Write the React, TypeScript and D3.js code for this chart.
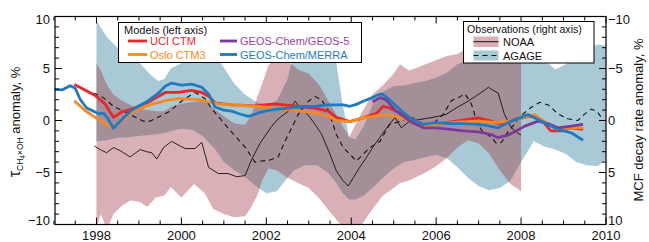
import * as d3 from "d3";

// model anomalies (left axis, %)
const uciYears = [1997.48, 1997.65, 1997.97, 1998.2, 1998.4, 1998.59, 1998.83, 1999.22, 1999.62, 1999.93, 2000.24, 2000.48, 2000.65, 2000.79, 2001.18, 2001.5, 2001.73, 2002.2, 2002.75, 2003.15, 2003.46, 2003.65, 2003.97, 2004.28, 2004.6, 2004.75, 2004.9, 2005.22, 2005.53, 2005.76, 2006.0, 2006.47, 2006.75, 2006.99, 2007.3, 2007.53, 2007.84, 2008.23, 2008.47, 2008.7, 2008.94, 2009.18, 2009.46];
const uciVals = [3.45, 3.1, 2.4, 1.6, 0.3, 0.8, 1.1, 1.75, 2.7, 2.7, 2.9, 2.7, 2.3, 1.7, 1.5, 1.45, 1.4, 1.6, 1.35, 1.2, 0.9, 0.3, -0.1, 0.25, 0.7, 1.37, 1.2, 0.57, -0.06, -0.54, -0.38, -0.06, 0.1, 0.26, -0.06, -0.38, 0.1, 0.4, 0.1, -1.0, -1.0, -0.7, -0.86];

const osloYears = [1997.48, 1997.73, 1997.97, 1998.2, 1998.4, 1998.83, 1999.22, 1999.62, 1999.93, 2000.4, 2000.87, 2001.2, 2001.73, 2002.52, 2003.15, 2003.46, 2003.65, 2003.97, 2004.28, 2004.75, 2005.06, 2005.38, 2005.7, 2006.0, 2006.5, 2006.99, 2007.46, 2007.84, 2008.32, 2008.63, 2008.87, 2009.18, 2009.46];
const osloVals = [1.9, 0.96, 0.3, -0.3, -0.73, 0.8, 1.45, 1.9, 2.1, 2.0, 1.6, 1.5, 1.37, 1.05, 0.73, 0.4, 0.0, -0.1, 0.25, 0.57, 0.4, -0.06, -0.54, -0.38, -0.15, -0.06, -0.2, 0.05, 0.57, -0.3, -0.86, -0.7, -0.7];

const geos5Years = [2004.5, 2004.68, 2004.82, 2005.06, 2005.38, 2005.7, 2006.0, 2006.32, 2006.64, 2006.99, 2007.3, 2007.46, 2007.7, 2008.09, 2008.4, 2008.63, 2008.87, 2009.18, 2009.46];
const geos5Vals = [1.8, 2.2, 2.0, 0.9, -0.06, -0.7, -0.7, -0.86, -1.0, -1.1, -1.35, -1.65, -1.4, -0.54, -0.06, -0.3, -0.7, -0.55, -0.38];

const merraYears = [1997.0, 1997.2, 1997.38, 1997.5, 1997.62, 1997.77, 1997.93, 1998.05, 1998.16, 1998.25, 1998.4, 1998.6, 1998.83, 1999.0, 1999.22, 1999.45, 1999.62, 1999.77, 2000.0, 2000.24, 2000.48, 2000.65, 2000.79, 2001.0, 2001.18, 2001.4, 2001.58, 2001.8, 2001.97, 2002.25, 2002.52, 2002.8, 2003.15, 2003.46, 2003.81, 2003.97, 2004.12, 2004.28, 2004.5, 2004.68, 2004.75, 2004.9, 2005.06, 2005.22, 2005.38, 2005.55, 2005.7, 2006.0, 2006.3, 2006.64, 2006.99, 2007.2, 2007.46, 2007.77, 2008.0, 2008.16, 2008.4, 2008.63, 2008.87, 2009.18, 2009.46];
const merraVals = [3.0, 2.95, 3.35, 3.1, 2.0, 1.2, 0.9, 0.65, 0.7, 0.3, -0.75, 0.1, 1.0, 1.4, 1.9, 2.6, 3.3, 3.6, 3.4, 3.5, 3.2, 2.5, 1.3, 1.0, 0.9, 0.6, 0.4, 0.7, 0.9, 1.1, 1.2, 1.3, 1.37, 1.5, 1.5, 1.37, 1.55, 1.85, 2.2, 2.55, 2.5, 2.0, 1.4, 0.8, 0.25, -0.1, -0.38, -0.2, -0.3, -0.3, -0.38, -0.5, -0.7, -0.06, 0.3, 0.57, 0.1, -0.38, -0.86, -1.18, -1.9];

// observed MCF decay rate anomalies (right axis, %)
const noaaYears = [1997.95, 1998.09, 1998.24, 1998.4, 1998.56, 1998.79, 1999.03, 1999.18, 1999.3, 1999.42, 1999.58, 1999.77, 1999.97, 2000.09, 2000.32, 2000.48, 2000.64, 2000.87, 2001.1, 2001.3, 2001.5, 2001.65, 2001.85, 2002.12, 2002.28, 2002.52, 2002.68, 2002.83, 2002.99, 2003.15, 2003.3, 2003.5, 2003.65, 2003.81, 2003.93, 2004.05, 2004.2, 2004.35, 2004.52, 2004.68, 2004.82, 2005.03, 2005.18, 2005.38, 2005.62, 2005.85, 2006.05, 2006.24, 2006.47, 2006.75, 2006.99, 2007.14, 2007.23, 2007.3, 2007.46, 2007.61, 2007.77, 2007.92, 2008.0];
const noaaVals = [2.45, 2.8, 3.1, 2.6, 2.9, 3.5, 2.8, 3.0, 3.1, 3.7, 2.6, 2.0, 2.45, 2.7, 2.7, 2.1, 4.5, 5.1, 5.1, 5.4, 5.3, 3.8, 2.2, 0.6, -0.16, -0.9, -1.85, -1.05, -0.5, 0.38, 1.3, 3.25, 4.85, 5.8, 6.3, 5.5, 4.5, 3.6, 2.5, 1.6, 0.8, -0.3, 0.7, 0.06, -0.1, -0.25, -0.4, -0.6, -1.2, -1.85, -2.5, -2.9, -3.2, -3.0, -2.65, -0.57, 0.7, 1.2, 1.4];

const agageYears = [1997.93, 1998.16, 1998.4, 1998.64, 1998.87, 1999.1, 1999.26, 1999.5, 1999.73, 2000.0, 2000.32, 2000.56, 2000.72, 2000.95, 2001.18, 2001.5, 2001.73, 2001.89, 2002.09, 2002.28, 2002.44, 2002.6, 2002.75, 2002.99, 2003.15, 2003.3, 2003.46, 2003.65, 2003.81, 2003.97, 2004.12, 2004.28, 2004.44, 2004.68, 2004.9, 2005.14, 2005.46, 2005.7, 2005.93, 2006.16, 2006.36, 2006.52, 2006.68, 2006.83, 2006.95, 2007.07, 2007.3, 2007.42, 2007.54, 2007.69, 2007.85, 2008.0, 2008.24, 2008.44, 2008.64, 2008.87, 2009.1, 2009.34, 2009.5, 2009.66, 2009.8, 2009.9];
const agageVals = [-2.65, -2.2, -1.37, -0.9, -0.4, 0.06, 0.06, -0.4, -0.9, -1.85, -2.7, -2.1, -1.1, 0.0, 1.1, 2.55, 4.0, 3.9, 3.8, 3.5, 2.0, 0.7, -0.57, -1.85, -2.3, -2.0, -1.0, 1.34, 2.6, 3.25, 3.9, 3.25, 2.6, 2.0, 0.38, 0.1, -0.25, 0.7, 0.3, -0.57, -1.9, -2.2, -2.55, -1.6, 0.0, 0.96, 1.6, 2.2, 2.1, 1.1, 0.32, -0.48, -1.27, -1.75, -1.5, -0.64, -0.16, 0.0, -0.64, -1.1, -0.8, -0.25];

// uncertainty ranges (right axis)
const noaaBandYears = [1998.0, 1998.1, 1998.25, 1998.4, 1998.6, 1998.8, 1999.0, 1999.2, 1999.4, 1999.6, 1999.75, 2000.0, 2000.3, 2000.55, 2000.75, 2001.0, 2001.25, 2001.5, 2001.65, 2001.8, 2001.9, 2002.05, 2002.25, 2002.5, 2002.75, 2003.0, 2003.25, 2003.5, 2003.75, 2003.95, 2004.25, 2004.5, 2004.75, 2005.0, 2005.15, 2005.35, 2005.5, 2005.75, 2006.0, 2006.25, 2006.5, 2006.75, 2007.0, 2007.25, 2007.5, 2007.75, 2008.0];
const noaaBandLow = [-5.5, -4.8, -3.4, -2.5, -1.9, -1.5, -1.1, -1.0, -0.9, -0.9, -1.3, -1.6, -1.8, -1.9, -1.2, -0.4, 0.3, 0.4, -0.5, -2.4, -3.5, -5.3, -6.1, -5.7, -4.9, -4.5, -3.4, -1.6, 0.2, 1.6, -0.8, -2.5, -3.4, -4.5, -5.4, -4.8, -5.0, -5.4, -5.8, -6.2, -6.4, -7.0, -7.5, -7.5, -7.2, -6.6, -6.2];
const noaaBandHigh = [10.5, 9.0, 10.5, 9.0, 8.2, 7.7, 7.8, 8.3, 7.4, 7.2, 6.4, 7.4, 6.1, 7.0, 8.5, 9.0, 9.3, 9.2, 8.3, 7.1, 5.8, 4.6, 4.8, 5.5, 6.0, 6.5, 7.5, 8.8, 10.0, 10.6, 10.0, 8.5, 7.2, 6.5, 6.0, 5.8, 5.5, 5.0, 4.4, 3.6, 2.6, 1.9, 2.2, 3.2, 4.8, 6.1, 6.8];

const agageBandYears = [1998.0, 1998.25, 1998.5, 1998.75, 1999.0, 1999.25, 1999.45, 1999.6, 1999.75, 2000.0, 2000.25, 2000.5, 2000.8, 2001.0, 2001.25, 2001.5, 2001.75, 2002.0, 2002.25, 2002.5, 2002.65, 2002.9, 2003.2, 2003.45, 2003.65, 2003.8, 2003.95, 2004.1, 2004.3, 2004.5, 2004.75, 2005.0, 2005.25, 2005.5, 2005.75, 2006.0, 2006.25, 2006.5, 2006.75, 2007.0, 2007.25, 2007.5, 2007.75, 2008.0, 2008.3, 2008.55, 2008.8, 2009.05, 2009.3, 2009.55, 2009.8, 2010.0];
const agageBandLow = [-9.6, -8.0, -7.0, -6.3, -5.6, -4.5, -3.8, -4.0, -5.0, -5.5, -5.7, -5.7, -6.3, -5.1, -3.5, -2.5, -1.8, -1.5, -1.9, -4.0, -6.5, -8.0, -8.5, -8.0, -5.5, -1.5, 1.6, 1.8, 0.5, -1.5, -2.8, -3.3, -3.4, -3.6, -3.8, -4.1, -4.6, -5.4, -5.8, -6.0, -6.0, -6.0, -6.1, -6.3, -6.2, -5.9, -4.9, -5.4, -6.2, -6.9, -7.3, -7.2];
const agageBandHigh = [2.0, 1.9, 1.65, 1.6, 1.5, 1.4, 1.3, 1.2, 1.0, 0.8, 0.9, 1.5, 2.8, 4.0, 4.8, 5.4, 6.3, 7.0, 6.8, 5.5, 4.8, 4.3, 4.3, 5.0, 6.0, 7.0, 7.6, 7.6, 7.2, 6.5, 5.5, 4.6, 4.0, 3.8, 3.5, 3.3, 3.6, 4.5, 5.5, 6.3, 6.7, 6.5, 5.8, 4.0, 2.0, 2.5, 2.8, 3.2, 4.0, 4.3, 4.4, 3.8];

const yearLabels = [1998, 2000, 2002, 2004, 2006, 2008, 2010];
const valueLabels = [10, 5, 0, -5, -10];

const colors = {
  uci: "#e8262b",
  oslo: "#f68a20",
  geos5: "#7b3c99",
  geos5Text: "#9d3fa2",
  merra: "#1f7bc1",
  noaa: "#d9b0b5",
  agage: "#a9c9d6",
  both: "#a48f98",
};

const font = "'Liberation Sans', Arial, Helvetica, sans-serif";
const W = 649;
const H = 242;
const left = 55, right = 606, top = 16.5, bottom = 224.5;

const x = d3.scaleLinear().domain([1997, 2010]).range([54, 606]);
const yLeft = d3.scaleLinear().domain([-10, 10]).range([bottom, top]);
const yRight = d3.scaleLinear().domain([-10, 10]).range([top, bottom]);

const pairs = (xs: number[], ys: number[]) => xs.map((t, i) => [t, ys[i]] as [number, number]);
const minus = (v: number) => (v < 0 ? "\u2212" + Math.abs(v) : String(v));
// the extreme labels sit a little inside the frame, as in the original
const labelY = (py: number) => Math.min(Math.max(py, 19.5), 220);

export default function App() {
  const modelLine = d3.line<[number, number]>().x((d) => x(d[0])).y((d) => yLeft(d[1]));
  const obsLine = d3.line<[number, number]>().x((d) => x(d[0])).y((d) => yRight(d[1]));
  const band = (ys: number[], lo: number[], hi: number[]) =>
    d3.area<number>().x((i) => x(ys[i])).y0((i) => yRight(lo[i])).y1((i) => yRight(hi[i]))(d3.range(ys.length)) || "";

  const noaaBand = band(noaaBandYears, noaaBandLow, noaaBandHigh);
  const agageBand = band(agageBandYears, agageBandLow, agageBandHigh);

  const models = [
    { vals: pairs(uciYears, uciVals), color: colors.uci },
    { vals: pairs(osloYears, osloVals), color: colors.oslo },
    { vals: pairs(geos5Years, geos5Vals), color: colors.geos5 },
    { vals: pairs(merraYears, merraVals), color: colors.merra },
  ];

  const yTicks = d3.range(-10, 11);
  const xTicks = d3.range(1997, 2010.01, 0.5);

  return (
    <svg width={W} height={H} style={{ position: "absolute", left: 0, top: 0, background: "#fff" }} fontFamily={font}>
      <defs>
        <clipPath id="plot">
          <rect x={left} y={top} width={right - left} height={bottom - top} />
        </clipPath>
        <clipPath id="agageClip">
          <path d={agageBand} />
        </clipPath>
      </defs>

      <g clipPath="url(#plot)">
        <path d={noaaBand} fill={colors.noaa} />
        <path d={agageBand} fill={colors.agage} />
        <path d={noaaBand} fill={colors.both} clipPath="url(#agageClip)" />

        <path d={obsLine(pairs(noaaYears, noaaVals)) || ""} fill="none" stroke="#111" strokeWidth={0.9} />
        <path d={obsLine(pairs(agageYears, agageVals)) || ""} fill="none" stroke="#111" strokeWidth={1.1} strokeDasharray="5,4" />

        {models.map((m, i) => (
          <path key={i} d={modelLine(m.vals) || ""} fill="none" stroke={m.color} strokeWidth={2.8} strokeLinejoin="round" />
        ))}
      </g>

      {/* frame and ticks */}
      <rect x={left} y={top} width={right - left} height={bottom - top} fill="none" stroke="#000" strokeWidth={1.2} />
      <g stroke="#000" strokeWidth={1}>
        {yTicks.map((v) => {
          const len = v % 5 === 0 ? 7 : 4;
          return (
            <g key={v}>
              <line x1={left} x2={left + len} y1={yLeft(v)} y2={yLeft(v)} />
              <line x1={right} x2={right - len} y1={yRight(v)} y2={yRight(v)} />
            </g>
          );
        })}
        {xTicks.map((t) => {
          const len = t % 2 === 0 ? 7 : 4;
          return (
            <g key={t}>
              <line x1={x(t)} x2={x(t)} y1={bottom} y2={bottom - len} />
              <line x1={x(t)} x2={x(t)} y1={top} y2={top + len} />
            </g>
          );
        })}
      </g>

      <g fontSize={13} fill="#111">
        {valueLabels.map((v) => (
          <text key={"l" + v} x={50} y={labelY(yLeft(v))} dy="0.35em" textAnchor="end">{minus(v)}</text>
        ))}
        {valueLabels.map((v) => (
          <text key={"r" + v} x={608} y={labelY(yRight(v))} dy="0.35em">{minus(v)}</text>
        ))}
        {yearLabels.map((t) => (
          <text key={t} x={x(t)} y={240} textAnchor="middle">{t}</text>
        ))}
      </g>

      {/* axis titles */}
      <text transform="translate(20,122) rotate(-90)" textAnchor="middle" fontSize={13} fill="#111">
        <tspan fontSize={16}>τ</tspan>
        <tspan fontSize={8.5} dy={3}>CH</tspan>
        <tspan fontSize={6.5} dy={1.5}>4</tspan>
        <tspan fontSize={8.5} dy={-1.5}>×OH</tspan>
        <tspan dy={-3}> anomaly, %</tspan>
      </text>
      <text transform="translate(643,120) rotate(-90)" textAnchor="middle" fontSize={13} fill="#111">
        MCF decay rate anomaly, %
      </text>

      {/* model legend */}
      <g fontSize={11}>
        <rect x={118.5} y={22.5} width={243} height={40} fill="#fff" stroke="#000" strokeWidth={1} />
        <text x={124} y={33.5} fill="#111">Models (left axis)</text>
        <line x1={128} x2={147} y1={41} y2={41} stroke={colors.uci} strokeWidth={2.8} />
        <text x={150} y={45} fill={colors.uci}>UCI CTM</text>
        <line x1={128} x2={147} y1={54.5} y2={54.5} stroke={colors.oslo} strokeWidth={2.8} />
        <text x={150} y={58.5} fill={colors.oslo}>Oslo CTM3</text>
        <line x1={220} x2={237} y1={41} y2={41} stroke={colors.geos5} strokeWidth={2.8} />
        <text x={240} y={45} fill={colors.geos5Text}>GEOS-Chem/GEOS-5</text>
        <line x1={220} x2={237} y1={54.5} y2={54.5} stroke={colors.merra} strokeWidth={2.8} />
        <text x={240} y={58.5} fill={colors.merra}>GEOS-Chem/MERRA</text>
      </g>

      {/* observation legend */}
      <g fontSize={11}>
        <rect x={463.5} y={21.5} width={130.5} height={41.5} fill="#fff" stroke="#000" strokeWidth={1} />
        <text x={467} y={32.5} fill="#111" fontSize={10.6}>Observations (right axis)</text>
        <rect x={473.5} y={36.5} width={25} height={10.5} fill={colors.noaa} />
        <line x1={473.5} x2={498.5} y1={41.7} y2={41.7} stroke="#111" strokeWidth={1} />
        <text x={503} y={45.5} fill="#111">NOAA</text>
        <rect x={473.5} y={50.5} width={25} height={10} fill={colors.agage} />
        <line x1={473.5} x2={498.5} y1={55.5} y2={55.5} stroke="#111" strokeWidth={1.2} strokeDasharray="5,4" />
        <text x={503} y={59.5} fill="#111">AGAGE</text>
      </g>
    </svg>
  );
}
